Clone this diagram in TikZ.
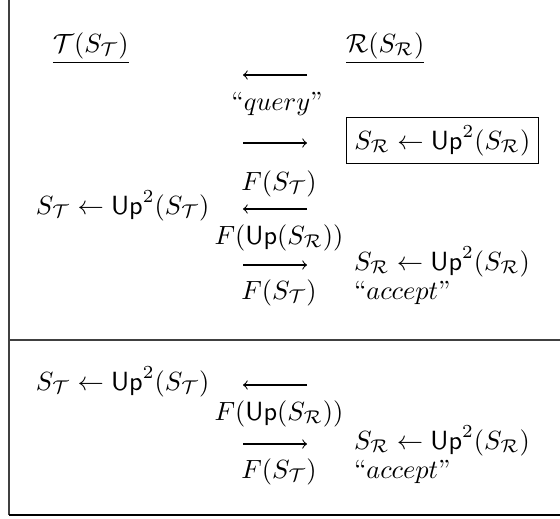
\documentclass[tikz,border=0pt]{standalone}
\usepackage{amsmath}
\begin{document}
\begin{tikzpicture}[x=0.38pt,y=-0.38pt,
  lbl/.style={inner sep=0pt,outer sep=0pt,anchor=base},
  lblw/.style={inner sep=0pt,outer sep=0pt,anchor=base west},
  msg/.style={line width=0.4pt,-to},
  rule/.style={line width=0.45pt,draw=black!75}]
\useasboundingbox (0,0) rectangle (560,518);
% frame: left side, divider between the two runs, bottom
\coordinate (tl) at (9,0);
\coordinate (bl) at (9,515);
\coordinate (br) at (560,515);
\coordinate (ml) at (9,340);
\coordinate (mr) at (560,340);
\draw[rule] (tl) -- (bl);
\draw[rule] (ml) -- (mr);
\draw[line width=0.6pt] (bl) -- (br);

% party headers
\node[lblw] (T) at (53,52) {$\underline{\mathcal{T}(S_{\mathcal{T}})}$};
\node[lblw] (R) at (346,52) {$\underline{\mathcal{R}(S_{\mathcal{R}})}$};

% first run
\coordinate (a1r) at (307,75);  \coordinate (a1l) at (243,75);
\draw[msg] (a1r) -- (a1l);
\node[lbl] (q) at (277,110) {``$query$''};
\coordinate (a2l) at (243,143); \coordinate (a2r) at (307,143);
\draw[msg] (a2l) -- (a2r);
\node[draw,line width=0.4pt,inner sep=3pt,anchor=base west] (box) at (346,149)
  {$S_{\mathcal{R}} \leftarrow \mathsf{Up}^2(S_{\mathcal{R}})$};
\node[lbl] (f1) at (279,190) {$F(S_{\mathcal{T}})$};
\node[lblw] (t1) at (36,214) {$S_{\mathcal{T}} \leftarrow \mathsf{Up}^2(S_{\mathcal{T}})$};
\coordinate (a3r) at (307,209); \coordinate (a3l) at (243,209);
\draw[msg] (a3r) -- (a3l);
\node[lbl] (f2) at (279,244) {$F(\mathsf{Up}(S_{\mathcal{R}}))$};
\coordinate (a4l) at (243,265); \coordinate (a4r) at (307,265);
\draw[msg] (a4l) -- (a4r);
\node[lblw] (r1) at (354,270) {$S_{\mathcal{R}} \leftarrow \mathsf{Up}^2(S_{\mathcal{R}})$};
\node[lbl] (f3) at (279,299) {$F(S_{\mathcal{T}})$};
\node[lblw] (acc1) at (354,299) {``$accept$''};

% second run
\node[lblw] (t2) at (36,390) {$S_{\mathcal{T}} \leftarrow \mathsf{Up}^2(S_{\mathcal{T}})$};
\coordinate (b1r) at (307,385); \coordinate (b1l) at (243,385);
\draw[msg] (b1r) -- (b1l);
\node[lbl] (g1) at (279,420) {$F(\mathsf{Up}(S_{\mathcal{R}}))$};
\coordinate (b2l) at (243,444); \coordinate (b2r) at (307,444);
\draw[msg] (b2l) -- (b2r);
\node[lblw] (r2) at (354,449) {$S_{\mathcal{R}} \leftarrow \mathsf{Up}^2(S_{\mathcal{R}})$};
\node[lbl] (g2) at (279,478) {$F(S_{\mathcal{T}})$};
\node[lblw] (acc2) at (354,478) {``$accept$''};
\end{tikzpicture}
\end{document}
